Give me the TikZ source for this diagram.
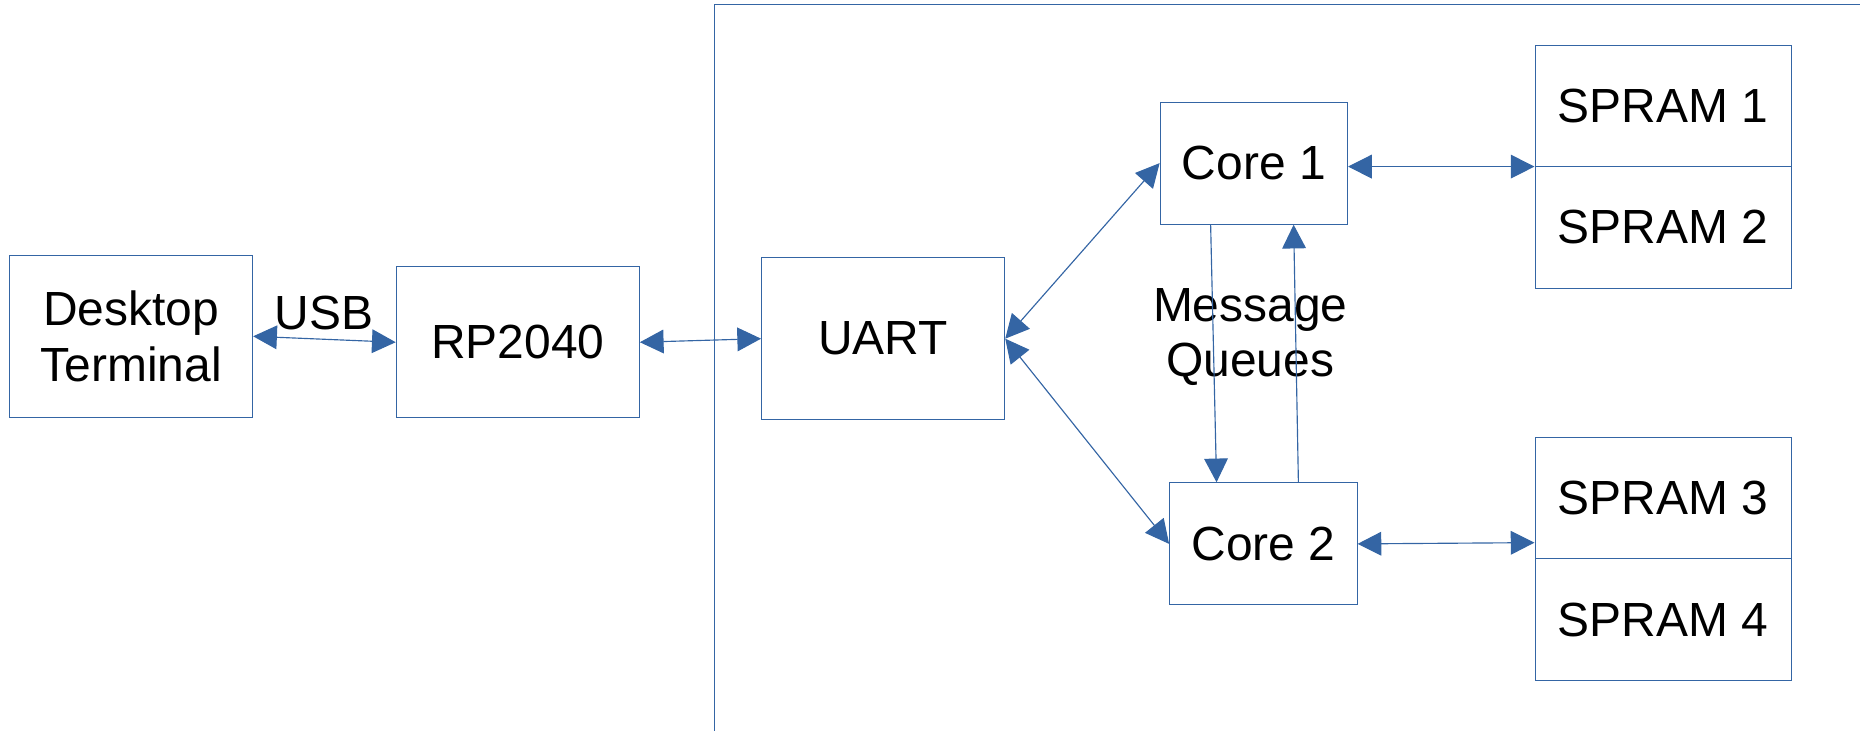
\documentclass[tikz,border=0pt]{standalone}
\usepackage{fontspec}
\setmainfont{Liberation Sans}
\usetikzlibrary{arrows.meta,positioning}
\definecolor{lo}{HTML}{3465A4}
\tikzset{
  box/.style={draw=lo, line width=0.5pt, inner sep=0pt, align=center, font=\fontsize{23}{26.5}\selectfont},
  lbl/.style={inner sep=0pt, align=center, font=\fontsize{23}{26.5}\selectfont},
  conn/.style={draw=lo, line width=0.55pt},
  bi/.style={conn, {Triangle[length=0.40cm,width=0.40cm]}-{Triangle[length=0.40cm,width=0.40cm]}},
  uni/.style={conn, -{Triangle[length=0.40cm,width=0.40cm]}},
}
\begin{document}
\begin{tikzpicture}[x=0.02cm,y=-0.02cm]
\useasboundingbox (0,0) rectangle (1568,616);
% frame
\draw[conn] (602,616) -- (602,4) -- (1568,4);
% nodes
\node[box, minimum width=4.10cm, minimum height=2.74cm] (desk) at (110.5,283.5) {Desktop\\Terminal};
\node[box, minimum width=4.10cm, minimum height=2.54cm] (rp) at (436.5,288.5) {RP2040};
\node[box, minimum width=4.10cm, minimum height=2.74cm] (uart) at (744.5,285.5) {UART};
\node[box, minimum width=3.16cm, minimum height=2.06cm] (core1) at (1057,137.5) {Core 1};
\node[box, minimum width=3.16cm, minimum height=2.06cm] (core2) at (1065,458.5) {Core 2};
\node[box, minimum width=4.32cm, minimum height=2.04cm] (s1) at (1402,89) {SPRAM 1};
\node[box, minimum width=4.32cm, minimum height=2.06cm] (s2) at (1402,191.5) {SPRAM 2};
\node[box, minimum width=4.32cm, minimum height=2.04cm] (s3) at (1402,420) {SPRAM 3};
\node[box, minimum width=4.32cm, minimum height=2.06cm] (s4) at (1402,522.5) {SPRAM 4};
\node[lbl] (usb) at (273,264) {USB};
\node[lbl] (mq) at (1054,284) {Message\\Queues};
% connectors
\draw[bi] (desk.east) -- (rp.west);
\draw[bi] (rp.east) -- (uart.west);
\draw[bi] (uart.east) -- (core1.west);
\draw[bi] (uart.east) -- (core2.west);
\draw[bi] (core1.east |- s1.south west) -- (s1.south west);
\draw[bi] (core2.east) -- ([yshift=0.28cm]s3.south west);
\draw[uni] ([xshift=0.86cm]core1.south west) -- ([xshift=0.80cm]core2.north west);
\draw[uni] ([xshift=2.18cm]core2.north west) -- ([xshift=2.26cm]core1.south west);
\end{tikzpicture}
\end{document}
